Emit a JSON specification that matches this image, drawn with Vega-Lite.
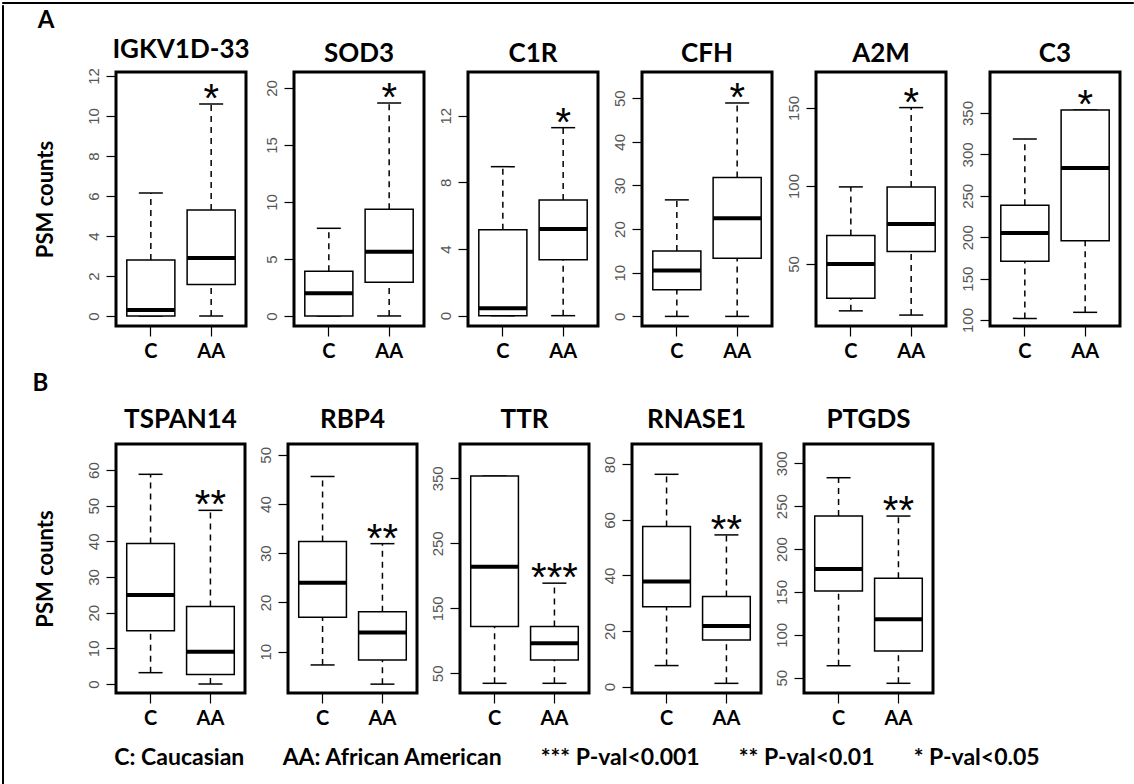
{
"$schema": "https://vega.github.io/schema/vega-lite/v6.json",
"background": "white",
"padding": {"left": 1, "top": 1, "right": 1, "bottom": 1},
"spacing": 0,
"vconcat": [
{"width": 1131, "height": 1, "view": {"stroke": "black", "strokeWidth": 1, "fill": "black"}, "data": {"values": [{}]}, "mark": {"type": "text", "text": "", "fontSize": 0, "dy": 0}, "encoding": {}},
{"spacing": 28, "hconcat": [
{"width": 1, "height": 779, "view": {"stroke": "black", "strokeWidth": 1, "fill": "black"}, "data": {"values": [{}]}, "mark": {"type": "text", "text": "", "fontSize": 0, "dy": 0}, "encoding": {}},
{"spacing": 11, "hconcat": [
{"spacing": 0, "vconcat": [
{"width": 130, "height": 30, "view": {"stroke": null}, "data": {"values": [{"v": 0}]}, "mark": {"type": "text", "text": "", "fontSize": 0, "dy": 0},
 "encoding": {"y": {"field": "v", "type": "quantitative", "scale": {"domain": [0, 1]}, "axis": {"title": "A", "titleAngle": 0, "titleAlign": "right", "titleBaseline": "middle", "titleFontSize": 24, "titlePadding": 62, "minExtent": 0, "ticks": false, "labels": false, "domain": false, "grid": false}}}},
{"spacing": 8,
 "title": {"text": "C: Caucasian\u00a0\u00a0\u00a0\u00a0\u00a0\u00a0\u00a0AA: African American\u00a0\u00a0\u00a0\u00a0\u00a0\u00a0\u00a0*** P-val<0.001\u00a0\u00a0\u00a0\u00a0\u00a0\u00a0\u00a0** P-val<0.01\u00a0\u00a0\u00a0\u00a0\u00a0\u00a0\u00a0* P-val<0.05", "orient": "bottom", "anchor": "middle", "frame": "bounds", "fontSize": 23, "offset": 35, "baseline": "alphabetic"},
 "vconcat": [
 {"spacing": 10,
  "hconcat": [
   {"width": 130, "height": 254, "title": {"text": "IGKV1D-33"},
    "data": {"values": [{"g":"C","lo":0,"q1":0,"med":0.3,"q3":2.8,"hi":6.15,"sig":""},{"g":"AA","lo":0,"q1":1.57,"med":2.9,"q3":5.3,"hi":10.6,"sig":"*"}]},
    "encoding": {"x": {"field":"g","type":"nominal","sort":["C","AA"],"scale":{"paddingInner":0.203,"paddingOuter":0.179},"title":null}},
    "layer": [
     {"mark":"rule","encoding":{"y":{"field":"q3","type":"quantitative","title":"PSM counts","scale":{"domain":[-0.5,12.2],"nice":false,"zero":false},"axis":{"values":[0,2,4,6,8,10,12],"labelOverlap":false}},"y2":{"field":"hi"}}},
     {"mark":"rule","encoding":{"y":{"field":"lo","type":"quantitative","title":"PSM counts","scale":{"domain":[-0.5,12.2],"nice":false,"zero":false}},"y2":{"field":"q1"}}},
     {"mark":{"type":"tick","size":24},"encoding":{"y":{"field":"hi","type":"quantitative","title":"PSM counts","scale":{"domain":[-0.5,12.2],"nice":false,"zero":false}}}},
     {"mark":{"type":"tick","size":24},"encoding":{"y":{"field":"lo","type":"quantitative","title":"PSM counts","scale":{"domain":[-0.5,12.2],"nice":false,"zero":false}}}},
     {"mark":"bar","encoding":{"y":{"field":"q1","type":"quantitative","title":"PSM counts","scale":{"domain":[-0.5,12.2],"nice":false,"zero":false}},"y2":{"field":"q3"}}},
     {"mark":{"type":"tick","size":48,"thickness":4},"encoding":{"y":{"field":"med","type":"quantitative","title":"PSM counts","scale":{"domain":[-0.5,12.2],"nice":false,"zero":false}}}},
     {"mark":"text","encoding":{"y":{"field":"hi","type":"quantitative","title":"PSM counts","scale":{"domain":[-0.5,12.2],"nice":false,"zero":false}},"text":{"field":"sig"}}}
    ]},
   {"width": 130, "height": 254, "title": {"text": "SOD3"},
    "data": {"values": [{"g":"C","lo":0,"q1":0,"med":2.0,"q3":3.92,"hi":7.69,"sig":""},{"g":"AA","lo":0,"q1":2.95,"med":5.64,"q3":9.36,"hi":18.68,"sig":"*"}]},
    "encoding": {"x": {"field":"g","type":"nominal","sort":["C","AA"],"scale":{"paddingInner":0.203,"paddingOuter":0.179},"title":null}},
    "layer": [
     {"mark":"rule","encoding":{"y":{"field":"q3","type":"quantitative","title":null,"scale":{"domain":[-0.88,21.4],"nice":false,"zero":false},"axis":{"values":[0,5,10,15,20],"labelOverlap":false}},"y2":{"field":"hi"}}},
     {"mark":"rule","encoding":{"y":{"field":"lo","type":"quantitative","title":null,"scale":{"domain":[-0.88,21.4],"nice":false,"zero":false}},"y2":{"field":"q1"}}},
     {"mark":{"type":"tick","size":24},"encoding":{"y":{"field":"hi","type":"quantitative","title":null,"scale":{"domain":[-0.88,21.4],"nice":false,"zero":false}}}},
     {"mark":{"type":"tick","size":24},"encoding":{"y":{"field":"lo","type":"quantitative","title":null,"scale":{"domain":[-0.88,21.4],"nice":false,"zero":false}}}},
     {"mark":"bar","encoding":{"y":{"field":"q1","type":"quantitative","title":null,"scale":{"domain":[-0.88,21.4],"nice":false,"zero":false}},"y2":{"field":"q3"}}},
     {"mark":{"type":"tick","size":48,"thickness":4},"encoding":{"y":{"field":"med","type":"quantitative","title":null,"scale":{"domain":[-0.88,21.4],"nice":false,"zero":false}}}},
     {"mark":"text","encoding":{"y":{"field":"hi","type":"quantitative","title":null,"scale":{"domain":[-0.88,21.4],"nice":false,"zero":false}},"text":{"field":"sig"}}}
    ]},
   {"width": 130, "height": 254, "title": {"text": "C1R"},
    "data": {"values": [{"g":"C","lo":0,"q1":0,"med":0.44,"q3":5.16,"hi":8.94,"sig":""},{"g":"AA","lo":0,"q1":3.36,"med":5.2,"q3":6.94,"hi":11.28,"sig":"*"}]},
    "encoding": {"x": {"field":"g","type":"nominal","sort":["C","AA"],"scale":{"paddingInner":0.203,"paddingOuter":0.179},"title":null}},
    "layer": [
     {"mark":"rule","encoding":{"y":{"field":"q3","type":"quantitative","title":null,"scale":{"domain":[-0.62,14.62],"nice":false,"zero":false},"axis":{"values":[0,2,4,6,8,10,12,14],"labelOverlap":false}},"y2":{"field":"hi"}}},
     {"mark":"rule","encoding":{"y":{"field":"lo","type":"quantitative","title":null,"scale":{"domain":[-0.62,14.62],"nice":false,"zero":false}},"y2":{"field":"q1"}}},
     {"mark":{"type":"tick","size":24},"encoding":{"y":{"field":"hi","type":"quantitative","title":null,"scale":{"domain":[-0.62,14.62],"nice":false,"zero":false}}}},
     {"mark":{"type":"tick","size":24},"encoding":{"y":{"field":"lo","type":"quantitative","title":null,"scale":{"domain":[-0.62,14.62],"nice":false,"zero":false}}}},
     {"mark":"bar","encoding":{"y":{"field":"q1","type":"quantitative","title":null,"scale":{"domain":[-0.62,14.62],"nice":false,"zero":false}},"y2":{"field":"q3"}}},
     {"mark":{"type":"tick","size":48,"thickness":4},"encoding":{"y":{"field":"med","type":"quantitative","title":null,"scale":{"domain":[-0.62,14.62],"nice":false,"zero":false}}}},
     {"mark":"text","encoding":{"y":{"field":"hi","type":"quantitative","title":null,"scale":{"domain":[-0.62,14.62],"nice":false,"zero":false}},"text":{"field":"sig"}}}
    ]},
   {"width": 130, "height": 254, "title": {"text": "CFH"},
    "data": {"values": [{"g":"C","lo":0,"q1":6.1,"med":10.5,"q3":15.0,"hi":26.7,"sig":""},{"g":"AA","lo":0,"q1":13.3,"med":22.5,"q3":31.8,"hi":48.9,"sig":"*"}]},
    "encoding": {"x": {"field":"g","type":"nominal","sort":["C","AA"],"scale":{"paddingInner":0.203,"paddingOuter":0.179},"title":null}},
    "layer": [
     {"mark":"rule","encoding":{"y":{"field":"q3","type":"quantitative","title":null,"scale":{"domain":[-2.2,56.0],"nice":false,"zero":false},"axis":{"values":[0,10,20,30,40,50],"labelOverlap":false}},"y2":{"field":"hi"}}},
     {"mark":"rule","encoding":{"y":{"field":"lo","type":"quantitative","title":null,"scale":{"domain":[-2.2,56.0],"nice":false,"zero":false}},"y2":{"field":"q1"}}},
     {"mark":{"type":"tick","size":24},"encoding":{"y":{"field":"hi","type":"quantitative","title":null,"scale":{"domain":[-2.2,56.0],"nice":false,"zero":false}}}},
     {"mark":{"type":"tick","size":24},"encoding":{"y":{"field":"lo","type":"quantitative","title":null,"scale":{"domain":[-2.2,56.0],"nice":false,"zero":false}}}},
     {"mark":"bar","encoding":{"y":{"field":"q1","type":"quantitative","title":null,"scale":{"domain":[-2.2,56.0],"nice":false,"zero":false}},"y2":{"field":"q3"}}},
     {"mark":{"type":"tick","size":48,"thickness":4},"encoding":{"y":{"field":"med","type":"quantitative","title":null,"scale":{"domain":[-2.2,56.0],"nice":false,"zero":false}}}},
     {"mark":"text","encoding":{"y":{"field":"hi","type":"quantitative","title":null,"scale":{"domain":[-2.2,56.0],"nice":false,"zero":false}},"text":{"field":"sig"}}}
    ]},
   {"width": 130, "height": 254, "title": {"text": "A2M"},
    "data": {"values": [{"g":"C","lo":20,"q1":28,"med":50,"q3":68.2,"hi":99.4,"sig":""},{"g":"AA","lo":17.3,"q1":58.1,"med":75.6,"q3":99.4,"hi":150.2,"sig":"*"}]},
    "encoding": {"x": {"field":"g","type":"nominal","sort":["C","AA"],"scale":{"paddingInner":0.203,"paddingOuter":0.179},"title":null}},
    "layer": [
     {"mark":"rule","encoding":{"y":{"field":"q3","type":"quantitative","title":null,"scale":{"domain":[10.3,173],"nice":false,"zero":false},"axis":{"values":[50,100,150],"labelOverlap":false}},"y2":{"field":"hi"}}},
     {"mark":"rule","encoding":{"y":{"field":"lo","type":"quantitative","title":null,"scale":{"domain":[10.3,173],"nice":false,"zero":false}},"y2":{"field":"q1"}}},
     {"mark":{"type":"tick","size":24},"encoding":{"y":{"field":"hi","type":"quantitative","title":null,"scale":{"domain":[10.3,173],"nice":false,"zero":false}}}},
     {"mark":{"type":"tick","size":24},"encoding":{"y":{"field":"lo","type":"quantitative","title":null,"scale":{"domain":[10.3,173],"nice":false,"zero":false}}}},
     {"mark":"bar","encoding":{"y":{"field":"q1","type":"quantitative","title":null,"scale":{"domain":[10.3,173],"nice":false,"zero":false}},"y2":{"field":"q3"}}},
     {"mark":{"type":"tick","size":48,"thickness":4},"encoding":{"y":{"field":"med","type":"quantitative","title":null,"scale":{"domain":[10.3,173],"nice":false,"zero":false}}}},
     {"mark":"text","encoding":{"y":{"field":"hi","type":"quantitative","title":null,"scale":{"domain":[10.3,173],"nice":false,"zero":false}},"text":{"field":"sig"}}}
    ]},
   {"width": 130, "height": 254, "title": {"text": "C3"},
    "data": {"values": [{"g":"C","lo":102,"q1":171,"med":205,"q3":238.5,"hi":318.6,"sig":""},{"g":"AA","lo":109.3,"q1":195.8,"med":283.6,"q3":353.6,"hi":353.6,"sig":"*"}]},
    "encoding": {"x": {"field":"g","type":"nominal","sort":["C","AA"],"scale":{"paddingInner":0.203,"paddingOuter":0.179},"title":null}},
    "layer": [
     {"mark":"rule","encoding":{"y":{"field":"q3","type":"quantitative","title":null,"scale":{"domain":[92.8,399.5],"nice":false,"zero":false},"axis":{"values":[100,150,200,250,300,350,400],"labelOverlap":false}},"y2":{"field":"hi"}}},
     {"mark":"rule","encoding":{"y":{"field":"lo","type":"quantitative","title":null,"scale":{"domain":[92.8,399.5],"nice":false,"zero":false}},"y2":{"field":"q1"}}},
     {"mark":{"type":"tick","size":24},"encoding":{"y":{"field":"hi","type":"quantitative","title":null,"scale":{"domain":[92.8,399.5],"nice":false,"zero":false}}}},
     {"mark":{"type":"tick","size":24},"encoding":{"y":{"field":"lo","type":"quantitative","title":null,"scale":{"domain":[92.8,399.5],"nice":false,"zero":false}}}},
     {"mark":"bar","encoding":{"y":{"field":"q1","type":"quantitative","title":null,"scale":{"domain":[92.8,399.5],"nice":false,"zero":false}},"y2":{"field":"q3"}}},
     {"mark":{"type":"tick","size":48,"thickness":4},"encoding":{"y":{"field":"med","type":"quantitative","title":null,"scale":{"domain":[92.8,399.5],"nice":false,"zero":false}}}},
     {"mark":"text","encoding":{"y":{"field":"hi","type":"quantitative","title":null,"scale":{"domain":[92.8,399.5],"nice":false,"zero":false}},"text":{"field":"sig"}}}
    ]}
  ]},
 {"spacing": 9, "title": {"text": "B", "anchor": "start", "frame": "bounds", "fontSize": 24, "offset": 10},
  "hconcat": [
   {"width": 129, "height": 249, "title": {"text": "TSPAN14", "offset": 11},
    "data": {"values": [{"g":"C","lo":3.18,"q1":14.95,"med":24.95,"q3":39.4,"hi":58.8,"sig":""},{"g":"AA","lo":0,"q1":2.7,"med":9.06,"q3":21.7,"hi":48.7,"sig":"**"}]},
    "encoding": {"x": {"field":"g","type":"nominal","sort":["C","AA"],"scale":{"paddingInner":0.203,"paddingOuter":0.179},"title":null}},
    "layer": [
     {"mark":"rule","encoding":{"y":{"field":"q3","type":"quantitative","title":"PSM counts","scale":{"domain":[-2.52,67.3],"nice":false,"zero":false},"axis":{"values":[0,10,20,30,40,50,60],"labelOverlap":false}},"y2":{"field":"hi"}}},
     {"mark":"rule","encoding":{"y":{"field":"lo","type":"quantitative","title":"PSM counts","scale":{"domain":[-2.52,67.3],"nice":false,"zero":false}},"y2":{"field":"q1"}}},
     {"mark":{"type":"tick","size":24},"encoding":{"y":{"field":"hi","type":"quantitative","title":"PSM counts","scale":{"domain":[-2.52,67.3],"nice":false,"zero":false}}}},
     {"mark":{"type":"tick","size":24},"encoding":{"y":{"field":"lo","type":"quantitative","title":"PSM counts","scale":{"domain":[-2.52,67.3],"nice":false,"zero":false}}}},
     {"mark":"bar","encoding":{"y":{"field":"q1","type":"quantitative","title":"PSM counts","scale":{"domain":[-2.52,67.3],"nice":false,"zero":false}},"y2":{"field":"q3"}}},
     {"mark":{"type":"tick","size":48,"thickness":4},"encoding":{"y":{"field":"med","type":"quantitative","title":"PSM counts","scale":{"domain":[-2.52,67.3],"nice":false,"zero":false}}}},
     {"mark":"text","encoding":{"y":{"field":"hi","type":"quantitative","title":"PSM counts","scale":{"domain":[-2.52,67.3],"nice":false,"zero":false}},"text":{"field":"sig"}}}
    ]},
   {"width": 129, "height": 249, "title": {"text": "RBP4", "offset": 11},
    "data": {"values": [{"g":"C","lo":7.3,"q1":17.0,"med":24.0,"q3":32.4,"hi":45.6,"sig":""},{"g":"AA","lo":3.4,"q1":8.3,"med":13.9,"q3":18.1,"hi":31.95,"sig":"**"}]},
    "encoding": {"x": {"field":"g","type":"nominal","sort":["C","AA"],"scale":{"paddingInner":0.203,"paddingOuter":0.179},"title":null}},
    "layer": [
     {"mark":"rule","encoding":{"y":{"field":"q3","type":"quantitative","title":null,"scale":{"domain":[1.6,52.2],"nice":false,"zero":false},"axis":{"values":[10,20,30,40,50],"labelOverlap":false}},"y2":{"field":"hi"}}},
     {"mark":"rule","encoding":{"y":{"field":"lo","type":"quantitative","title":null,"scale":{"domain":[1.6,52.2],"nice":false,"zero":false}},"y2":{"field":"q1"}}},
     {"mark":{"type":"tick","size":24},"encoding":{"y":{"field":"hi","type":"quantitative","title":null,"scale":{"domain":[1.6,52.2],"nice":false,"zero":false}}}},
     {"mark":{"type":"tick","size":24},"encoding":{"y":{"field":"lo","type":"quantitative","title":null,"scale":{"domain":[1.6,52.2],"nice":false,"zero":false}}}},
     {"mark":"bar","encoding":{"y":{"field":"q1","type":"quantitative","title":null,"scale":{"domain":[1.6,52.2],"nice":false,"zero":false}},"y2":{"field":"q3"}}},
     {"mark":{"type":"tick","size":48,"thickness":4},"encoding":{"y":{"field":"med","type":"quantitative","title":null,"scale":{"domain":[1.6,52.2],"nice":false,"zero":false}}}},
     {"mark":"text","encoding":{"y":{"field":"hi","type":"quantitative","title":null,"scale":{"domain":[1.6,52.2],"nice":false,"zero":false}},"text":{"field":"sig"}}}
    ]},
   {"width": 129, "height": 249, "title": {"text": "TTR", "offset": 11},
    "data": {"values": [{"g":"C","lo":34.6,"q1":122,"med":214,"q3":353.5,"hi":353.5,"sig":""},{"g":"AA","lo":34.6,"q1":70.5,"med":96.2,"q3":122,"hi":188.7,"sig":"***"}]},
    "encoding": {"x": {"field":"g","type":"nominal","sort":["C","AA"],"scale":{"paddingInner":0.203,"paddingOuter":0.179},"title":null}},
    "layer": [
     {"mark":"rule","encoding":{"y":{"field":"q3","type":"quantitative","title":null,"scale":{"domain":[19.7,402.8],"nice":false,"zero":false},"axis":{"values":[50,100,150,200,250,300,350,400],"labelOverlap":false,"labelExpr":"(datum.value % 100 == 50 && datum.value < 400) ? datum.label : ''"}},"y2":{"field":"hi"}}},
     {"mark":"rule","encoding":{"y":{"field":"lo","type":"quantitative","title":null,"scale":{"domain":[19.7,402.8],"nice":false,"zero":false}},"y2":{"field":"q1"}}},
     {"mark":{"type":"tick","size":24},"encoding":{"y":{"field":"hi","type":"quantitative","title":null,"scale":{"domain":[19.7,402.8],"nice":false,"zero":false}}}},
     {"mark":{"type":"tick","size":24},"encoding":{"y":{"field":"lo","type":"quantitative","title":null,"scale":{"domain":[19.7,402.8],"nice":false,"zero":false}}}},
     {"mark":"bar","encoding":{"y":{"field":"q1","type":"quantitative","title":null,"scale":{"domain":[19.7,402.8],"nice":false,"zero":false}},"y2":{"field":"q3"}}},
     {"mark":{"type":"tick","size":48,"thickness":4},"encoding":{"y":{"field":"med","type":"quantitative","title":null,"scale":{"domain":[19.7,402.8],"nice":false,"zero":false}}}},
     {"mark":"text","encoding":{"y":{"field":"hi","type":"quantitative","title":null,"scale":{"domain":[19.7,402.8],"nice":false,"zero":false}},"text":{"field":"sig"}}}
    ]},
   {"width": 129, "height": 249, "title": {"text": "RNASE1", "offset": 11},
    "data": {"values": [{"g":"C","lo":7.6,"q1":28.8,"med":37.8,"q3":57.6,"hi":76.4,"sig":""},{"g":"AA","lo":1.2,"q1":16.8,"med":21.8,"q3":32.4,"hi":54.6,"sig":"**"}]},
    "encoding": {"x": {"field":"g","type":"nominal","sort":["C","AA"],"scale":{"paddingInner":0.203,"paddingOuter":0.179},"title":null}},
    "layer": [
     {"mark":"rule","encoding":{"y":{"field":"q3","type":"quantitative","title":null,"scale":{"domain":[-2.27,87.3],"nice":false,"zero":false},"axis":{"values":[0,20,40,60,80],"labelOverlap":false}},"y2":{"field":"hi"}}},
     {"mark":"rule","encoding":{"y":{"field":"lo","type":"quantitative","title":null,"scale":{"domain":[-2.27,87.3],"nice":false,"zero":false}},"y2":{"field":"q1"}}},
     {"mark":{"type":"tick","size":24},"encoding":{"y":{"field":"hi","type":"quantitative","title":null,"scale":{"domain":[-2.27,87.3],"nice":false,"zero":false}}}},
     {"mark":{"type":"tick","size":24},"encoding":{"y":{"field":"lo","type":"quantitative","title":null,"scale":{"domain":[-2.27,87.3],"nice":false,"zero":false}}}},
     {"mark":"bar","encoding":{"y":{"field":"q1","type":"quantitative","title":null,"scale":{"domain":[-2.27,87.3],"nice":false,"zero":false}},"y2":{"field":"q3"}}},
     {"mark":{"type":"tick","size":48,"thickness":4},"encoding":{"y":{"field":"med","type":"quantitative","title":null,"scale":{"domain":[-2.27,87.3],"nice":false,"zero":false}}}},
     {"mark":"text","encoding":{"y":{"field":"hi","type":"quantitative","title":null,"scale":{"domain":[-2.27,87.3],"nice":false,"zero":false}},"text":{"field":"sig"}}}
    ]},
   {"width": 129, "height": 249, "title": {"text": "PTGDS", "offset": 11},
    "data": {"values": [{"g":"C","lo":64,"q1":151.1,"med":176.7,"q3":238.5,"hi":283.2,"sig":""},{"g":"AA","lo":43.5,"q1":81.1,"med":118.1,"q3":165.9,"hi":238.5,"sig":"**"}]},
    "encoding": {"x": {"field":"g","type":"nominal","sort":["C","AA"],"scale":{"paddingInner":0.203,"paddingOuter":0.179},"title":null}},
    "layer": [
     {"mark":"rule","encoding":{"y":{"field":"q3","type":"quantitative","title":null,"scale":{"domain":[32.2,322.5],"nice":false,"zero":false},"axis":{"values":[50,100,150,200,250,300],"labelOverlap":false}},"y2":{"field":"hi"}}},
     {"mark":"rule","encoding":{"y":{"field":"lo","type":"quantitative","title":null,"scale":{"domain":[32.2,322.5],"nice":false,"zero":false}},"y2":{"field":"q1"}}},
     {"mark":{"type":"tick","size":24},"encoding":{"y":{"field":"hi","type":"quantitative","title":null,"scale":{"domain":[32.2,322.5],"nice":false,"zero":false}}}},
     {"mark":{"type":"tick","size":24},"encoding":{"y":{"field":"lo","type":"quantitative","title":null,"scale":{"domain":[32.2,322.5],"nice":false,"zero":false}}}},
     {"mark":"bar","encoding":{"y":{"field":"q1","type":"quantitative","title":null,"scale":{"domain":[32.2,322.5],"nice":false,"zero":false}},"y2":{"field":"q3"}}},
     {"mark":{"type":"tick","size":48,"thickness":4},"encoding":{"y":{"field":"med","type":"quantitative","title":null,"scale":{"domain":[32.2,322.5],"nice":false,"zero":false}}}},
     {"mark":"text","encoding":{"y":{"field":"hi","type":"quantitative","title":null,"scale":{"domain":[32.2,322.5],"nice":false,"zero":false}},"text":{"field":"sig"}}}
    ]}
  ]}
 ]}
]},
{"width": 1, "height": 779, "view": {"stroke": "black", "strokeWidth": 1, "fill": "black"}, "data": {"values": [{}]}, "mark": {"type": "text", "text": "", "fontSize": 0, "dy": 0}, "encoding": {}}
]}
]},
{"width": 1131, "height": 1, "view": {"stroke": "black", "strokeWidth": 1, "fill": "black"}, "data": {"values": [{}]}, "mark": {"type": "text", "text": "", "fontSize": 0, "dy": 0}, "encoding": {}}
],
"config": {
 "view": {"stroke": "black", "strokeWidth": 3},
 "rule": {"color": "black", "strokeDash": [6, 5], "strokeWidth": 1.5},
 "tick": {"color": "black", "thickness": 1.5, "opacity": 1},
 "bar": {"fill": "white", "stroke": "black", "strokeWidth": 1.5},
 "text": {"color": "black", "font": "Liberation Sans", "fontSize": 40, "dy": 8, "baseline": "alphabetic"},
 "axis": {"grid": false, "domain": false, "tickColor": "black", "tickWidth": 1.2},
 "axisX": {"tickSize": 10, "labelFont": "Lato", "labelFontWeight": "bold", "labelFontSize": 20, "labelColor": "black", "labelPadding": 5, "labelAngle": 0},
 "axisY": {"tickSize": 10, "labelAngle": 270, "labelAlign": "center", "labelBaseline": "bottom", "labelFont": "Liberation Sans", "labelFontSize": 15, "labelColor": "#555555", "labelPadding": 5, "labelOverlap": false, "labelFlush": false, "titleFont": "Lato", "titleFontSize": 22, "titleFontWeight": "bold", "titleColor": "black", "titlePadding": 29},
 "title": {"font": "Lato", "fontSize": 26, "fontWeight": "bold", "color": "black", "offset": 5, "baseline": "alphabetic"}
}
}
